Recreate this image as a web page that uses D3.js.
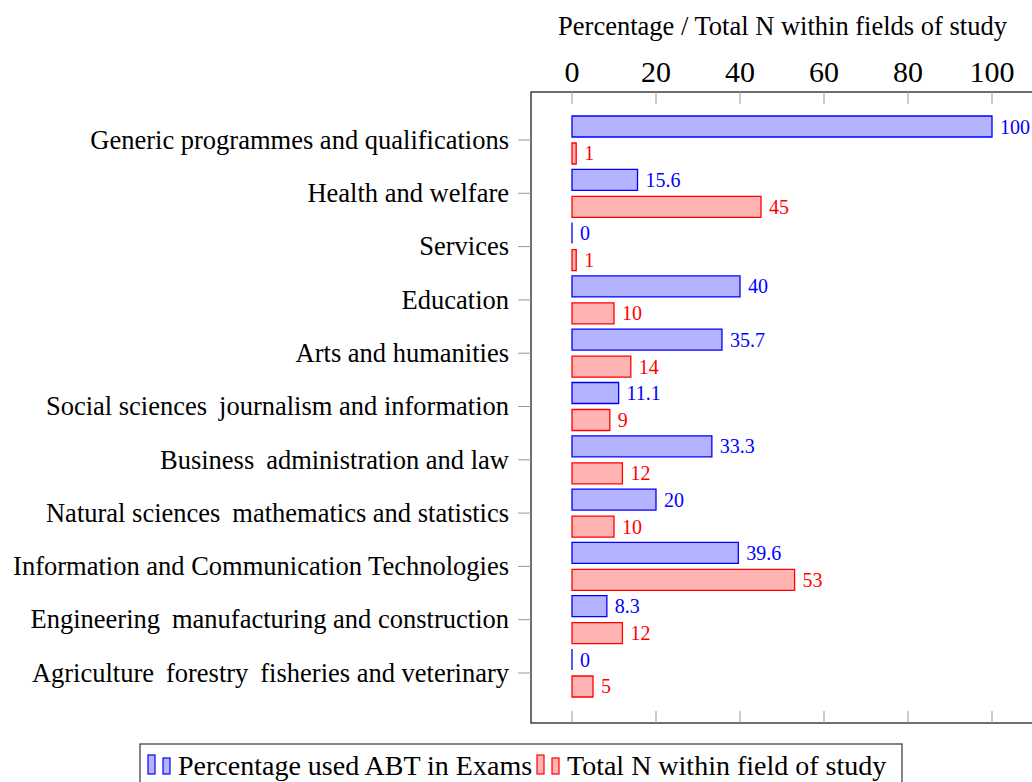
<!DOCTYPE html>
<html>
<head>
<meta charset="utf-8">
<script src="https://cdn.jsdelivr.net/npm/d3@7"></script>
<style>
  html, body { margin: 0; padding: 0; background: #fff; }
  svg { display: block; }
  text { font-family: "Liberation Serif", "Times New Roman", serif; }
</style>
</head>
<body>
<svg id="chart" width="1032" height="782"></svg>
<script>
const categories = [
  "Generic programmes and qualifications",
  "Health and welfare",
  "Services",
  "Education",
  "Arts and humanities",
  "Social sciences\u2009 journalism and information",
  "Business\u2009 administration and law",
  "Natural sciences\u2009 mathematics and statistics",
  "Information and Communication Technologies",
  "Engineering\u2009 manufacturing and construction",
  "Agriculture\u2009 forestry\u2009 fisheries and veterinary"
];
const pctUsedABT = [100, 15.6, 0, 40, 35.7, 11.1, 33.3, 20, 39.6, 8.3, 0];
const totalN = [1, 45, 1, 10, 14, 9, 12, 10, 53, 12, 5];
const xTicks = [0, 20, 40, 60, 80, 100];
const seriesNames = ["Percentage used ABT in Exams", "Total N within field of study"];
const axisTitle = "Percentage / Total N within fields of study";

const svg = d3.select("#chart");
const box = { left: 531, top: 92, right: 1034, bottom: 723 };

const x = d3.scaleLinear().domain([0, 100]).range([572, 992]);
const y = d3.scalePoint().domain(categories).range([140, 673]);
const sub = d3.scaleBand().domain(["pct", "n"]).range([-24, 24]).paddingInner(0.222);

const series = [
  { key: "pct", values: pctUsedABT, fill: "#b3b3ff", stroke: "#0000ff" },
  { key: "n", values: totalN, fill: "#ffb3b3", stroke: "#ff0000" }
];

// axis box
svg.append("rect")
  .attr("x", box.left).attr("y", box.top)
  .attr("width", box.right - box.left).attr("height", box.bottom - box.top)
  .attr("fill", "none").attr("stroke", "#222").attr("stroke-width", 1.3);

// x ticks (top and bottom, inside)
const tg = svg.append("g");
xTicks.forEach(t => {
  tg.append("line").attr("x1", x(t)).attr("x2", x(t))
    .attr("y1", box.top).attr("y2", box.top + 12)
    .attr("stroke", "#999").attr("stroke-width", 1);
  tg.append("line").attr("x1", x(t)).attr("x2", x(t))
    .attr("y1", box.bottom - 12).attr("y2", box.bottom)
    .attr("stroke", "#999").attr("stroke-width", 1);
  tg.append("text").attr("x", x(t)).attr("y", 82)
    .attr("text-anchor", "middle").attr("font-size", 30).attr("fill", "#000")
    .text(t);
});

// axis title
svg.append("text").attr("x", (box.left + box.right) / 2).attr("y", 35)
  .attr("text-anchor", "middle").attr("font-size", 26.5).attr("fill", "#000")
  .text(axisTitle);

// y ticks & labels
const yg = svg.append("g");
categories.forEach(c => {
  yg.append("line").attr("x1", box.left - 13).attr("x2", box.left)
    .attr("y1", y(c)).attr("y2", y(c)).attr("stroke", "#999").attr("stroke-width", 1);
  yg.append("text").attr("x", 509).attr("y", y(c)).attr("dy", "0.33em")
    .attr("text-anchor", "end").attr("font-size", 26.5).attr("fill", "#000")
    .style("white-space", "pre")
    .text(c);
});

// bars (as paths so zero-length bars still show their outline)
function barPath(x0, x1, y0, h) {
  const p = d3.path();
  p.moveTo(x0, y0); p.lineTo(x1, y0); p.lineTo(x1, y0 + h); p.lineTo(x0, y0 + h); p.closePath();
  return p.toString();
}
series.forEach(s => {
  const g = svg.append("g");
  g.selectAll("path").data(s.values).join("path")
    .attr("d", (d, i) => barPath(x(0), x(d), y(categories[i]) + sub(s.key), sub.bandwidth()))
    .attr("fill", s.fill).attr("stroke", s.stroke).attr("stroke-width", 1.3);
  g.selectAll("text").data(s.values).join("text")
    .attr("x", d => x(d) + 8)
    .attr("y", (d, i) => y(categories[i]) + sub(s.key) + sub.bandwidth() / 2)
    .attr("dy", "0.35em")
    .attr("font-size", 20).attr("fill", s.stroke)
    .text(d => String(d));
});

// legend
const lg = svg.append("g");
lg.append("rect").attr("x", 140).attr("y", 744).attr("width", 762).attr("height", 50)
  .attr("fill", "#fff").attr("stroke", "#444").attr("stroke-width", 1.3);
const legendX = [148, 537];
seriesNames.forEach((name, i) => {
  const s = series[i];
  const cx = legendX[i];
  lg.append("rect").attr("x", cx).attr("y", 755).attr("width", 7).attr("height", 19)
    .attr("fill", s.fill).attr("stroke", s.stroke).attr("stroke-width", 1.2);
  lg.append("rect").attr("x", cx + 15).attr("y", 758).attr("width", 7).attr("height", 16)
    .attr("fill", s.fill).attr("stroke", s.stroke).attr("stroke-width", 1.2);
  lg.append("text").attr("x", cx + 30).attr("y", 775)
    .attr("font-size", 28).attr("fill", "#000").text(name);
});
</script>
</body>
</html>
